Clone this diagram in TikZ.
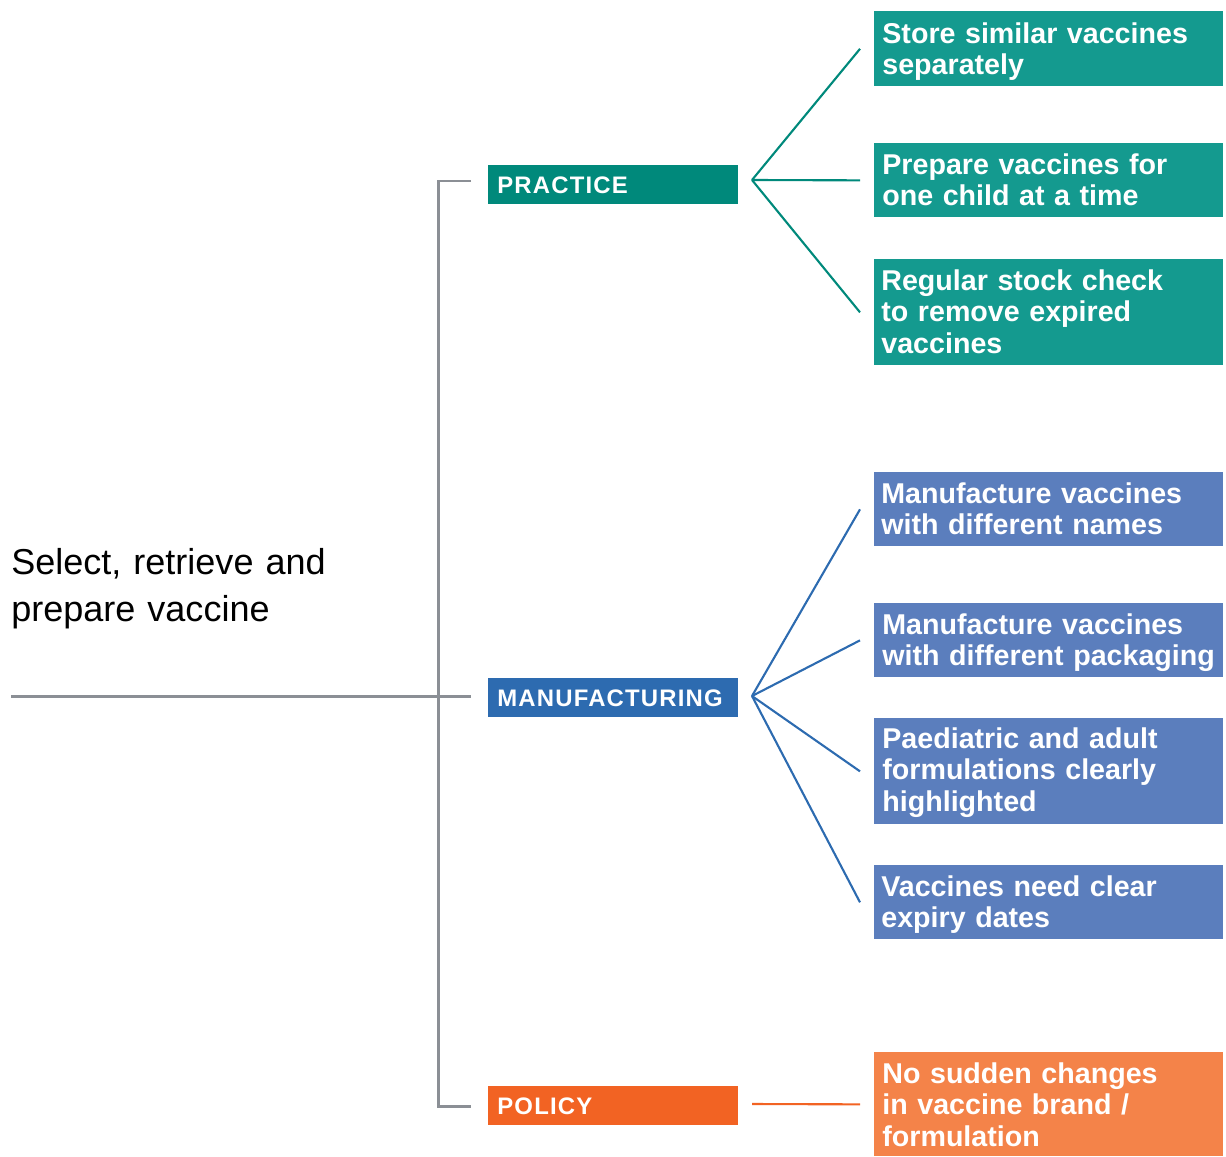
\documentclass[tikz,border=0pt]{standalone}
\usepackage{fontspec}
\setmainfont{Liberation Sans}
\newfontfamily\tagfont[LetterSpace=5]{Liberation Sans}

\definecolor{tealdark}{HTML}{00897B}
\definecolor{teallight}{HTML}{149A8F}
\definecolor{bluedark}{HTML}{2D6BB0}
\definecolor{bluelight}{HTML}{5B7EBD}
\definecolor{orangedark}{HTML}{F26323}
\definecolor{orangelight}{HTML}{F48349}
\definecolor{trunkgray}{HTML}{8B8F95}

\begin{document}
\begin{tikzpicture}[
  x=0.02cm, y=-0.02cm,
  trunk/.style={draw=trunkgray, line width=1.7pt},
  fan/.style={draw=#1, line width=1.2pt},
  tag/.style={fill=#1, anchor=north west, inner sep=0pt,
    minimum width=5cm, minimum height=0.78cm,
    text width=4.64cm, align=left, text=white,
    font=\tagfont\bfseries\fontsize{13.6}{15}\selectfont},
  itembox/.style={fill=#1, anchor=north west, inner sep=0pt, minimum width=6.98cm},
  itemtext/.style={anchor=base west, inner sep=0pt, text width=6.7cm, align=left,
    text=white, font=\bfseries\fontsize{16.3}{18.1}\selectfont},
]
\useasboundingbox (0,0) rectangle (1226,1156);

% topic
\node[anchor=base west, inner sep=0pt, text width=8cm, align=left,
      font=\fontsize{20.5}{26.8}\selectfont] (topic) at (11,574)
      {Select, retrieve and\\prepare vaccine};

% category tags
\node[tag=tealdark]   (prac) at (488,165)  {PRACTICE};
\node[tag=bluedark]   (manu) at (488,678)  {MANUFACTURING};
\node[tag=orangedark] (poli) at (488,1086) {POLICY};

% grey trunk and branches
\coordinate (root) at (11,696);
\coordinate (gp) at (471,181);
\coordinate (gm) at (471,696);
\coordinate (gl) at (471,1106);
\draw[trunk] (root) -- (gm);
\draw[trunk] (gp) -- ++(-33,0) |- (gl);

% item boxes
\node[itembox=teallight, minimum height=1.50cm] (s1) at (874,11)  {};
\node[itembox=teallight, minimum height=1.48cm] (s2) at (874,143) {};
\node[itembox=teallight, minimum height=2.12cm] (s3) at (874,259) {};
\node[itembox=bluelight, minimum height=1.48cm] (s4) at (874,472) {};
\node[itembox=bluelight, minimum height=1.48cm] (s5) at (874,603) {};
\node[itembox=bluelight, minimum height=2.12cm] (s6) at (874,718) {};
\node[itembox=bluelight, minimum height=1.48cm] (s7) at (874,865) {};
\node[itembox=orangelight, minimum height=2.08cm] (s8) at (874,1052) {};

% item texts
\node[itemtext] (t1) at ([shift={(8,32)}]s1.north west) {Store similar vaccines\\separately};
\node[itemtext] (t2) at ([shift={(8,31)}]s2.north west) {Prepare vaccines for\\one child at a time};
\node[itemtext] (t3) at ([shift={(7,31)}]s3.north west) {Regular stock check\\to remove expired\\vaccines};
\node[itemtext] (t4) at ([shift={(7,31)}]s4.north west) {Manufacture vaccines\\with different names};
\node[itemtext] (t5) at ([shift={(8,31)}]s5.north west) {Manufacture vaccines\\with different packaging};
\node[itemtext] (t6) at ([shift={(8,30)}]s6.north west) {Paediatric and adult\\formulations clearly\\highlighted};
\node[itemtext] (t7) at ([shift={(7,31)}]s7.north west) {Vaccines need clear\\expiry dates};
\node[itemtext] (t8) at ([shift={(8,31)}]s8.north west) {No sudden changes\\in vaccine brand /\\formulation};

% fan connectors, each stopping 14px short of its box
\coordinate (pj) at (752,180);
\coordinate (mj) at (752,696);
\coordinate (lj) at (752,1104);
\foreach \s in {s1,s2,s3} \draw[fan=tealdark] (pj) -- ([xshift=-2.8mm]\s.west);
\foreach \s in {s4,s5,s6,s7} \draw[fan=bluedark] (mj) -- ([xshift=-2.8mm]\s.west);
\draw[fan=orangedark] (lj) -- ([xshift=-2.8mm]s8.west);
\end{tikzpicture}
\end{document}
